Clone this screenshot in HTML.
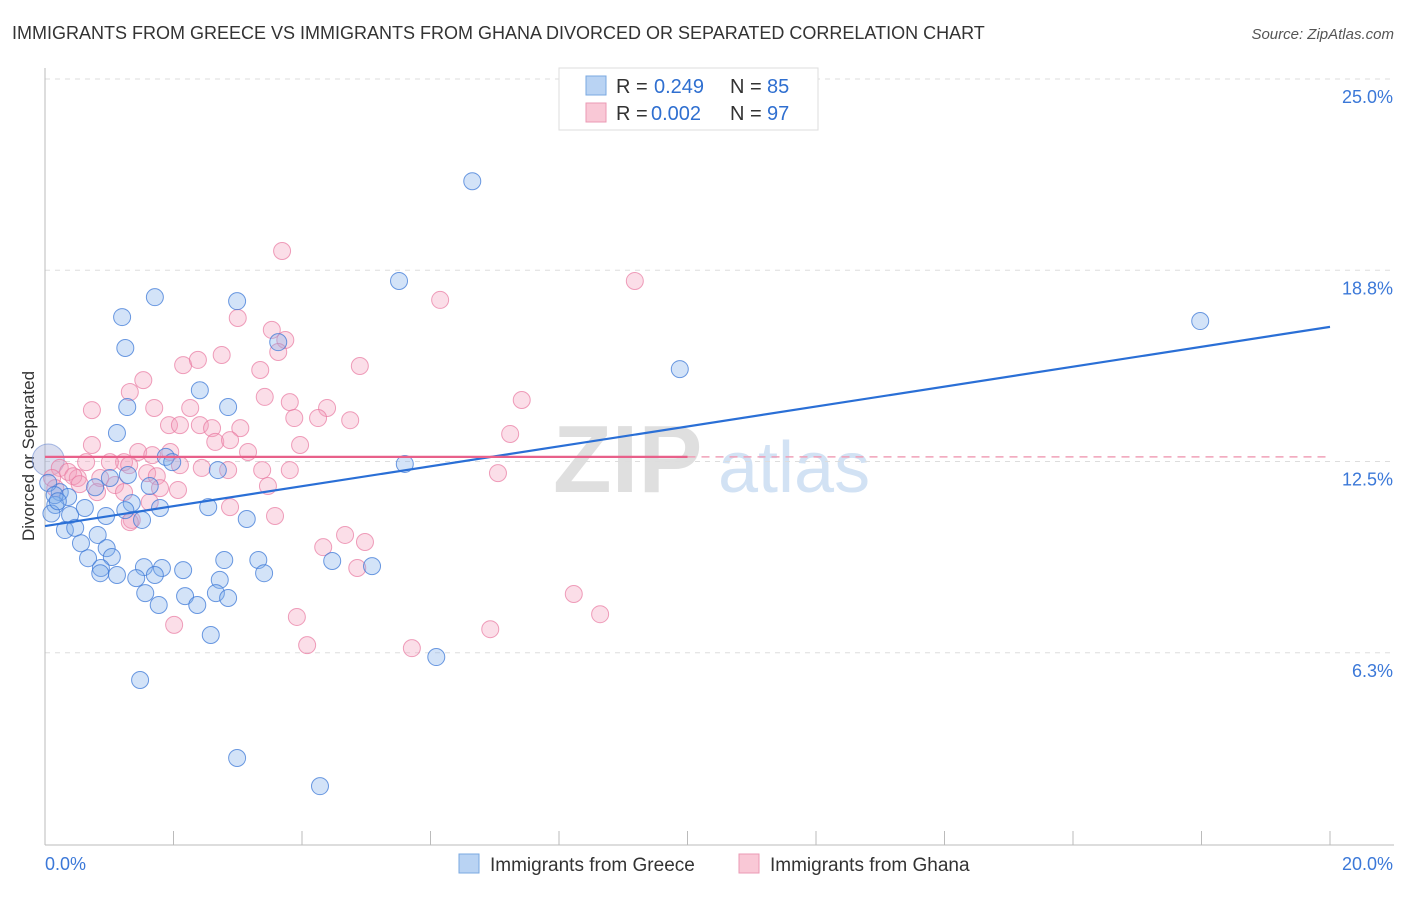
<!DOCTYPE html>
<html><head><meta charset="utf-8"><style>
body{margin:0;background:#fff;font-family:"Liberation Sans",sans-serif;}
svg text{font-family:"Liberation Sans",sans-serif;}
</style></head><body>
<svg id="chart" width="1406" height="892" xmlns="http://www.w3.org/2000/svg">
<text x="12" y="39" font-size="18" fill="#333">IMMIGRANTS FROM GREECE VS IMMIGRANTS FROM GHANA DIVORCED OR SEPARATED CORRELATION CHART</text>
<text x="1394" y="39" font-size="15" fill="#555" font-style="italic" text-anchor="end">Source: ZipAtlas.com</text>
<text transform="translate(34,456) rotate(-90)" font-size="17" fill="#333" text-anchor="middle">Divorced or Separated</text>
<g>
<text x="553" y="492" font-size="96" font-family="Liberation Serif" font-weight="bold" fill="#d8d8d8" opacity="0.8">ZIP</text>
<text x="718" y="492" font-size="72" fill="#c8dbf2" opacity="0.8">atlas</text>
</g>
<g id="grid"></g><g id="axes"></g><g id="pinkPts"></g><g id="bluePts"></g><g id="lines"></g>
<g>
<rect x="559" y="68" width="259" height="62" fill="#fff" stroke="#ddd"/>
<rect x="586" y="76" width="20" height="19" fill="#b9d3f3" stroke="#7aa8e0"/>
<rect x="586" y="103" width="20" height="19" fill="#f9c8d6" stroke="#eb9ab4"/>
<text x="616" y="93" font-size="20" fill="#333">R = </text><text x="654" y="93" font-size="20" fill="#2f6fd0">0.249</text>
<text x="730" y="93" font-size="20" fill="#333">N = </text><text x="767" y="93" font-size="20" fill="#2f6fd0">85</text>
<text x="616" y="120" font-size="20" fill="#333">R = </text><text x="651" y="120" font-size="20" fill="#2f6fd0">0.002</text>
<text x="730" y="120" font-size="20" fill="#333">N = </text><text x="767" y="120" font-size="20" fill="#2f6fd0">97</text>
</g>
<g>
<rect x="459" y="854" width="20" height="19" fill="#b9d3f3" stroke="#7aa8e0"/>
<text x="490" y="871" font-size="19" fill="#333">Immigrants from Greece</text>
<rect x="739" y="854" width="20" height="19" fill="#f9c8d6" stroke="#eb9ab4"/>
<text x="770" y="871" font-size="19" fill="#333">Immigrants from Ghana</text>
</g>
</svg>
<script>
const yTicks=[6.25,12.5,18.75,25];
const yTickLabels=["6.3%","12.5%","18.8%","25.0%"];
const xTicks=[0,2,4,6,8,10,12,14,16,18,20];
const xTickLabels=["0.0%","20.0%"];
const blueX=[6.65,5.51,1.71,2.99,1.20,1.25,3.63,9.88,17.98,2.41,2.85,1.28,1.12,1.88,1.98,2.69,5.60,1.01,1.29,0.78,1.63,0.23,0.36,0.16,0.62,1.35,1.79,1.25,2.54,0.39,0.95,1.51,3.14,0.82,0.31,0.47,0.56,0.96,1.04,0.67,0.87,1.54,1.82,2.15,2.79,3.32,4.47,5.09,0.86,1.12,1.42,1.71,2.72,3.41,1.56,2.18,2.66,2.85,1.77,2.37,2.58,6.09,1.48,2.99,4.28,0.05,0.10,0.15,0.20];
const blueY=[21.66,18.40,17.87,17.74,17.22,16.21,16.40,15.52,17.09,14.83,14.28,14.28,13.43,12.65,12.48,12.22,12.42,11.96,12.06,11.66,11.70,11.50,11.34,11.08,10.98,11.14,10.98,10.91,11.01,10.75,10.72,10.59,10.62,10.10,10.26,10.33,9.83,9.67,9.38,9.34,9.02,9.05,9.02,8.95,9.28,9.28,9.25,9.08,8.85,8.79,8.69,8.79,8.63,8.85,8.20,8.10,8.20,8.04,7.81,7.81,6.83,6.11,5.36,2.81,1.89,11.8,10.8,11.4,11.2];
const pinkX=[3.69,9.18,6.15,3.00,3.53,3.74,3.63,2.75,4.90,3.35,2.15,2.38,1.53,1.32,0.73,1.70,2.26,3.42,3.81,4.39,4.25,4.75,7.42,1.93,2.10,2.41,3.04,2.60,3.88,0.73,1.45,1.23,1.67,1.95,2.65,2.88,3.16,3.97,7.24,0.64,1.01,1.31,2.10,2.44,2.85,3.38,3.81,7.05,0.23,0.36,0.51,0.86,1.59,1.74,1.09,1.79,2.07,1.23,0.81,3.47,1.63,1.35,1.32,2.88,3.58,4.67,4.33,4.98,4.86,8.23,8.64,3.92,2.01,6.93,4.08,5.71,0.44,0.54,0.11,0.16];
const pinkY=[19.38,18.40,17.78,17.19,16.80,16.47,16.08,15.98,15.62,15.49,15.65,15.82,15.16,14.77,14.18,14.25,14.25,14.61,14.44,14.25,13.92,13.85,14.51,13.69,13.69,13.69,13.59,13.59,13.92,13.04,12.81,12.48,12.71,12.81,13.14,13.20,12.81,13.04,13.40,12.48,12.48,12.38,12.38,12.29,12.22,12.22,12.22,12.12,12.29,12.16,11.96,11.96,12.12,12.02,11.73,11.63,11.57,11.50,11.50,11.70,11.17,10.59,10.52,11.01,10.72,10.10,9.70,9.87,9.02,8.17,7.51,7.42,7.16,7.02,6.50,6.40,12.02,11.76,11.96,11.63];
const blueTrend=[10.39,16.90]; // y at x=0 and x=20
const pinkTrend=[12.65,12.65];
const NS="http://www.w3.org/2000/svg";
const xs=v=>45+v/20*1285;
const ys=v=>844-v/25*765;
function mk(tag,attrs,parent){const e=document.createElementNS(NS,tag);for(const k in attrs)e.setAttribute(k,attrs[k]);parent.appendChild(e);return e;}
const grid=document.getElementById('grid'),axes=document.getElementById('axes');
yTicks.forEach((t,i)=>{
  const l=mk('line',{x1:45,x2:1394,y1:ys(t),y2:ys(t),stroke:'#ddd','stroke-dasharray':'5,5'},grid);
  
  
  const tx=mk('text',{x:1393,y:ys(t)+24,'font-size':18,fill:'#3b78d8','text-anchor':'end'},axes);
  tx.textContent=yTickLabels[i];
  
  
});
const yax=mk('line',{x1:45,x2:45,y1:68,y2:845,stroke:'#bbb'},axes);


const xax=mk('line',{x1:45,x2:1394,y1:845,y2:845,stroke:'#bbb'},axes);


xTicks.forEach(t=>{
  const l=mk('line',{x1:xs(t),x2:xs(t),y1:831,y2:845,stroke:'#bbb'},axes);
  
  
});
const xl0=mk('text',{x:45,y:870,'font-size':18,fill:'#3b78d8'},axes);xl0.textContent=xTickLabels[0];


const xl1=mk('text',{x:1393,y:870,'font-size':18,fill:'#3b78d8','text-anchor':'end'},axes);xl1.textContent=xTickLabels[1];


const bp=document.getElementById('bluePts'),pp=document.getElementById('pinkPts');
// large overlapped marker at left edge
const big=mk('circle',{cx:xs(0.05),cy:ys(12.55),r:16,fill:'rgba(150,160,210,0.35)',stroke:'rgba(110,140,210,0.6)'},pp);


pinkX.forEach((x,i)=>{
  const c=mk('circle',{cx:xs(x),cy:ys(pinkY[i]),r:8.5,fill:'rgba(244,160,190,0.35)',stroke:'rgba(232,120,160,0.7)','stroke-width':1},pp);
  
  
});
blueX.forEach((x,i)=>{
  const c=mk('circle',{cx:xs(x),cy:ys(blueY[i]),r:8.5,fill:'rgba(130,175,235,0.35)',stroke:'rgba(60,120,215,0.75)','stroke-width':1},bp);
  
  
});
const lg=document.getElementById('lines');
const bl=mk('line',{x1:xs(0),y1:ys(blueTrend[0]),x2:xs(20),y2:ys(blueTrend[1]),stroke:'#2a6fd6','stroke-width':2.2},lg);


const pl=mk('line',{x1:xs(0),y1:ys(pinkTrend[0]),x2:xs(10),y2:ys(pinkTrend[0]+(pinkTrend[1]-pinkTrend[0])/2),stroke:'#e8608a','stroke-width':2.2},lg);


const pd=mk('line',{x1:xs(10),y1:ys(pinkTrend[0]+(pinkTrend[1]-pinkTrend[0])/2),x2:xs(20),y2:ys(pinkTrend[1]),stroke:'#f0a0b8','stroke-width':1.5,'stroke-dasharray':'8,6'},lg);


</script>
</body></html>
